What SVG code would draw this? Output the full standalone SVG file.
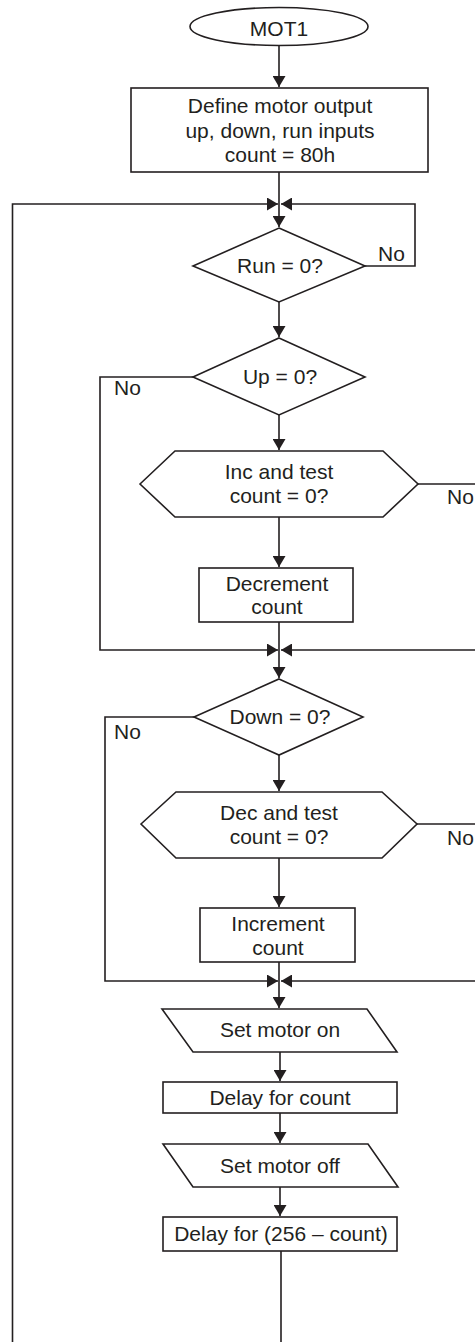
<svg xmlns="http://www.w3.org/2000/svg" width="475" height="1342" viewBox="0 0 475 1342">
<style>
.s{fill:#fff;stroke:#231f20;stroke-width:1.6}
.c{fill:none;stroke:#231f20;stroke-width:1.6}
.t{font-family:"Liberation Sans",Arial,sans-serif;font-size:21px;fill:#231f20;text-anchor:middle}
.l{font-family:"Liberation Sans",Arial,sans-serif;font-size:21px;fill:#231f20}
</style>
<defs>
<marker id="ah" markerUnits="userSpaceOnUse" markerWidth="12" markerHeight="13" refX="11" refY="6.5" orient="auto">
<path d="M0,0 L11,6.5 L0,13 z" fill="#231f20"/>
</marker>
</defs>
<rect width="475" height="1342" fill="#fff"/>
<g id="connectors">
<path class="c" d="M279,45.5 V87" marker-end="url(#ah)"/>
<path class="c" d="M279,172 V227" marker-end="url(#ah)"/>
<path class="c" d="M281,1251 V1350 H12.5 V204 H278" marker-end="url(#ah)"/>
<path class="c" d="M365,266 H415 V204 H281" marker-end="url(#ah)"/>
<path class="c" d="M279,302 V337" marker-end="url(#ah)"/>
<path class="c" d="M279,415 V450" marker-end="url(#ah)"/>
<path class="c" d="M193,377 H100 V650 H278" marker-end="url(#ah)"/>
<path class="c" d="M418,484 H482 V650 H281" marker-end="url(#ah)"/>
<path class="c" d="M279,517 V567" marker-end="url(#ah)"/>
<path class="c" d="M279,622 V678" marker-end="url(#ah)"/>
<path class="c" d="M194,717 H105 V981 H278" marker-end="url(#ah)"/>
<path class="c" d="M279,755 V791" marker-end="url(#ah)"/>
<path class="c" d="M417,824 H482 V981 H281" marker-end="url(#ah)"/>
<path class="c" d="M279,858 V907" marker-end="url(#ah)"/>
<path class="c" d="M279,962 V1008" marker-end="url(#ah)"/>
<path class="c" d="M280,1052 V1081" marker-end="url(#ah)"/>
<path class="c" d="M280,1113 V1143" marker-end="url(#ah)"/>
<path class="c" d="M280,1187 V1216" marker-end="url(#ah)"/>
<text class="l" x="378" y="261">No</text>
<text class="l" x="114" y="395">No</text>
<text class="l" x="447" y="504">No</text>
<text class="l" x="114" y="739">No</text>
<text class="l" x="447" y="845">No</text>
</g>
<g id="mot1">
<ellipse class="s" cx="279" cy="26.5" rx="89" ry="19"/>
<text class="t" x="279" y="35.5">MOT1</text>
</g>
<g id="define">
<rect class="s" x="131" y="88" width="297" height="84"/>
<text class="t" x="280" y="113">Define motor output</text>
<text class="t" x="280" y="137.5">up, down, run inputs</text>
<text class="t" x="280" y="161.5">count = 80h</text>
</g>
<g id="run">
<polygon class="s" points="279,228 365,266 279,302 193,266"/>
<text class="t" x="280" y="273">Run = 0?</text>
</g>
<g id="up">
<polygon class="s" points="279,338 365,377 279,415 193,377"/>
<text class="t" x="280" y="384">Up = 0?</text>
</g>
<g id="inc-test">
<polygon class="s" points="140,484 175,451 383,451 418,484 383,517 175,517"/>
<text class="t" x="279" y="479">Inc and test</text>
<text class="t" x="279" y="503">count = 0?</text>
</g>
<g id="decrement">
<rect class="s" x="199" y="568" width="154" height="54"/>
<text class="t" x="277" y="591">Decrement</text>
<text class="t" x="277" y="613.5">count</text>
</g>
<g id="down">
<polygon class="s" points="279,679 363,717 279,755 194,717"/>
<text class="t" x="280" y="724">Down = 0?</text>
</g>
<g id="dec-test">
<polygon class="s" points="141,824 176,792 382,792 417,824 382,858 176,858"/>
<text class="t" x="279" y="820">Dec and test</text>
<text class="t" x="279" y="843.5">count = 0?</text>
</g>
<g id="increment">
<rect class="s" x="200" y="908" width="155" height="54"/>
<text class="t" x="278" y="931">Increment</text>
<text class="t" x="278" y="955">count</text>
</g>
<g id="motor-on">
<polygon class="s" points="162,1009 367,1009 397,1052 193,1052"/>
<text class="t" x="280" y="1037">Set motor on</text>
</g>
<g id="delay-count">
<rect class="s" x="163" y="1082" width="234" height="31"/>
<text class="t" x="280" y="1104.5">Delay for count</text>
</g>
<g id="motor-off">
<polygon class="s" points="163,1144 368,1144 398,1187 193,1187"/>
<text class="t" x="280" y="1173">Set motor off</text>
</g>
<g id="delay-rest">
<rect class="s" x="163" y="1217" width="234" height="34"/>
<text class="t" x="281" y="1240.5">Delay for (256 – count)</text>
</g>
</svg>
